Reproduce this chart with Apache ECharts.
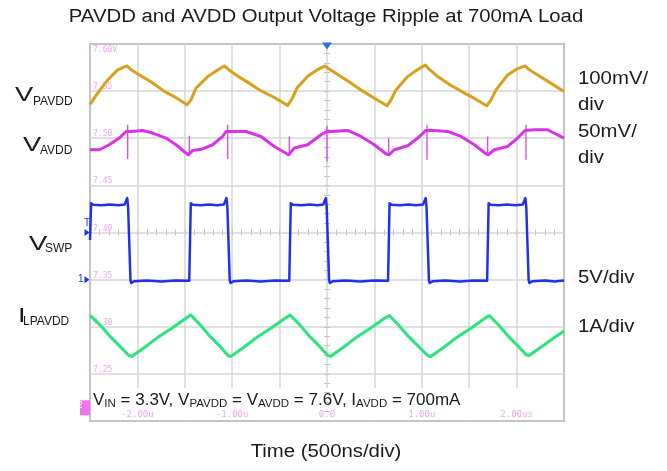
<!DOCTYPE html>
<html>
<head>
<meta charset="utf-8">
<script src="https://cdn.jsdelivr.net/npm/echarts@6/dist/echarts.min.js"></script>
<style>
  html, body { margin: 0; padding: 0; background: #fff; }
  #chart { width: 667px; height: 471px; }
</style>
</head>
<body>
<div id="chart"></div>
<script>
// Time axis: microseconds, 500 ns per division, trigger at 0
const xTickValues = [-2, -1, 0, 1, 2];
const xTickLabels = ['-2.00u', '-1.00u', '0.0', '1.00u', '2.00us'];
// Channel 2 (AVDD) screen scale, 50 mV per division
const yTickValues = [7.25, 7.30, 7.35, 7.40, 7.45, 7.50, 7.55, 7.60];
const yTickLabels = ['7.25', '7.30', '7.35', '7.40', '7.45', '7.50', '7.55', '7.60V'];

// Trace labels on the left and per-channel scales on the right
const traceMain = ['V', 'V', 'V', 'I'];
const traceSub = ['PAVDD', 'AVDD', 'SWP', 'LPAVDD'];
const scaleLabels = ['100mV/\ndiv', '50mV/\ndiv', '5V/div', '1A/div'];

// VPAVDD [t (us), V]
const pavdd = [
  [-2.5, 7.572], [-2.489, 7.574], [-2.419, 7.5957], [-2.313, 7.6238], [-2.208, 7.645], [-2.110, 7.6534],
  [-2.07, 7.646], [-1.980, 7.6344], [-1.85, 7.619], [-1.72, 7.600], [-1.6, 7.587], [-1.477, 7.5709],
  [-1.435, 7.5815], [-1.382, 7.6062], [-1.258, 7.6308], [-1.153, 7.645], [-1.083, 7.6534], [-1.04, 7.646],
  [-0.960, 7.6344], [-0.83, 7.618], [-0.7, 7.601], [-0.56, 7.587], [-0.415, 7.5698], [-0.369, 7.5836],
  [-0.316, 7.6069], [-0.200, 7.6323], [-0.105, 7.645], [-0.021, 7.6534], [0.03, 7.646], [0.105, 7.6365],
  [0.24, 7.619], [0.37, 7.601], [0.5, 7.585], [0.633, 7.5688], [0.675, 7.5815], [0.728, 7.6026],
  [0.851, 7.6308], [0.949, 7.645], [1.037, 7.6556], [1.08, 7.646], [1.168, 7.6308], [1.3, 7.613],
  [1.43, 7.598], [1.56, 7.584], [1.685, 7.5688], [1.730, 7.5815], [1.783, 7.6026], [1.906, 7.6344],
  [2.004, 7.6471], [2.089, 7.6534], [2.13, 7.646], [2.223, 7.6344], [2.36, 7.617], [2.5, 7.599]
];

// VAVDD [t (us), V]
const avdd = [
  [-2.5, 7.4878], [-2.402, 7.4878], [-2.296, 7.4931], [-2.191, 7.5002], [-2.12, 7.5072], [-2.068, 7.5072],
  [-1.944, 7.5083], [-1.839, 7.5055], [-1.698, 7.5002], [-1.593, 7.4931], [-1.487, 7.4843], [-1.462, 7.4825],
  [-1.417, 7.4871], [-1.311, 7.4886], [-1.206, 7.4931], [-1.100, 7.5019], [-1.065, 7.5072], [-0.995, 7.5072],
  [-0.854, 7.5072], [-0.696, 7.5019], [-0.556, 7.4913], [-0.405, 7.4825], [-0.345, 7.4896], [-0.204, 7.4931],
  [-0.063, 7.5037], [-0.004, 7.5072], [0.042, 7.5072], [0.218, 7.5083], [0.359, 7.5019], [0.499, 7.4931],
  [0.622, 7.4835], [0.655, 7.4825], [0.710, 7.4878], [0.851, 7.4921], [0.957, 7.5002], [1.044, 7.5083],
  [1.132, 7.5083], [1.273, 7.5072], [1.414, 7.5019], [1.554, 7.4931], [1.677, 7.4835], [1.70, 7.4825],
  [1.765, 7.4878], [1.906, 7.4913], [2.011, 7.5002], [2.089, 7.5083], [2.187, 7.509], [2.328, 7.509],
  [2.5, 7.5002]
];
// Switching spikes on VAVDD [t (us), top V, bottom V]
const avddSpikes = [
  [-2.102, 7.5143, 7.4780], [-1.453, 7.5026, 7.4815], [-1.047, 7.5143, 7.4780],
  [-0.398, 7.5019, 7.4815], [0.000, 7.5132, 7.4754], [0.651, 7.5002, 7.4815],
  [1.055, 7.5143, 7.4772], [1.695, 7.5019, 7.4815], [2.099, 7.5143, 7.4772]
];

// VSWP [t (us), V]
const swp = [
  [-2.5, 4.2], [-2.488, 8.1], [-2.465, 7.95], [-2.38, 7.88], [-2.29, 7.97], [-2.2, 7.9], [-2.135, 7.98],
  [-2.107, 8.65], [-2.098, 7.7], [-2.073, -0.05], [-2.065, -0.35], [-2.035, -0.18], [-1.9, -0.1],
  [-1.75, -0.2], [-1.6, -0.08], [-1.453, -0.12],
  [-1.437, 8.1], [-1.415, 7.95], [-1.33, 7.88], [-1.24, 7.97], [-1.16, 7.9], [-1.088, 7.98],
  [-1.06, 8.65], [-1.051, 7.7], [-1.026, -0.05], [-1.018, -0.35], [-0.988, -0.18], [-0.85, -0.1],
  [-0.7, -0.2], [-0.55, -0.08], [-0.398, -0.12],
  [-0.382, 8.1], [-0.36, 7.95], [-0.27, 7.88], [-0.18, 7.97], [-0.1, 7.9], [-0.04, 7.98],
  [-0.012, 8.65], [-0.003, 7.7], [0.022, -0.05], [0.03, -0.35], [0.06, -0.18], [0.2, -0.1],
  [0.35, -0.2], [0.5, -0.08], [0.644, -0.12],
  [0.66, 8.1], [0.682, 7.95], [0.77, 7.88], [0.86, 7.97], [0.94, 7.9], [1.013, 7.98],
  [1.041, 8.65], [1.05, 7.7], [1.075, -0.05], [1.083, -0.35], [1.113, -0.18], [1.25, -0.1],
  [1.4, -0.2], [1.55, -0.08], [1.689, -0.12],
  [1.705, 8.1], [1.727, 7.95], [1.81, 7.88], [1.9, 7.97], [1.99, 7.9], [2.065, 7.98],
  [2.093, 8.65], [2.102, 7.7], [2.127, -0.05], [2.135, -0.35], [2.165, -0.18], [2.3, -0.1],
  [2.4, -0.2], [2.5, -0.1]
];

// ILPAVDD [t (us), A]
const ilpavdd = [
  [-2.5, 2.24], [-2.488, 2.235], [-2.39, 2.03], [-2.29, 1.80], [-2.19, 1.60], [-2.09, 1.39], [-2.075, 1.36],
  [-2.06, 1.37], [-1.925, 1.56], [-1.775, 1.79], [-1.625, 1.985], [-1.495, 2.17], [-1.437, 2.25], [-1.425, 2.245],
  [-1.337, 2.04], [-1.237, 1.805], [-1.137, 1.60], [-1.045, 1.39], [-1.031, 1.36], [-1.016, 1.37],
  [-0.88, 1.56], [-0.73, 1.79], [-0.58, 1.985], [-0.45, 2.17], [-0.389, 2.25], [-0.377, 2.245],
  [-0.287, 2.04], [-0.187, 1.805], [-0.087, 1.60], [0.01, 1.39], [0.024, 1.37], [0.04, 1.375],
  [0.17, 1.56], [0.32, 1.79], [0.47, 1.985], [0.6, 2.17], [0.657, 2.24], [0.669, 2.235],
  [0.757, 2.03], [0.857, 1.80], [0.957, 1.60], [1.065, 1.385], [1.079, 1.36], [1.094, 1.37],
  [1.23, 1.56], [1.38, 1.79], [1.53, 1.985], [1.655, 2.165], [1.712, 2.24], [1.724, 2.235],
  [1.812, 2.03], [1.912, 1.80], [2.01, 1.60], [2.103, 1.40], [2.117, 1.38], [2.132, 1.39],
  [2.27, 1.585], [2.4, 1.77], [2.5, 1.91]
];

const FONT = '"Liberation Sans", Arial, sans-serif';
const MONO = '"DejaVu Sans Mono", monospace';
const PINK = '#f4a4ef';
const GRIDLINE = '#d6d6d6';
const INK = '#1a1a1a';
const COLORS = { pavdd: '#d8a11d', avdd: '#d734e8', swp: '#2130f0', il: '#2ae47c' };

const plot = { left: 90, top: 44, width: 474, height: 377 };

function pick(values, labels) {
  return function (v) {
    const i = values.findIndex(t => Math.abs(t - v) < 1e-6);
    return i < 0 ? '' : labels[i];
  };
}
const xLabel = pick(xTickValues, xTickLabels);
const yLabel = pick(yTickValues, yTickLabels);

// Spike segments separated by gaps
const spikeLine = [];
avddSpikes.forEach(([t, hi, lo]) => {
  spikeLine.push([t, hi], [t, lo], [t, '-']);
});

const timeAxisBase = { type: 'value', min: -2.5, max: 2.5, interval: 0.5, gridIndex: 0 };

function centerTicksX(inside) {
  return Object.assign({}, timeAxisBase, {
    position: 'bottom', offset: -plot.height / 2, z: 1,
    axisLine: { show: false },
    axisTick: { show: true, inside: inside, length: 3, lineStyle: { color: '#c4c4c4', width: 1 } },
    minorTick: { show: true, splitNumber: 5, length: 3, lineStyle: { color: '#c4c4c4', width: 1 } },
    axisLabel: { show: false }, splitLine: { show: false }
  });
}
function centerTicksY(inside) {
  return {
    type: 'value', min: 7.20, max: 7.60, interval: 0.05,
    position: 'left', offset: -plot.width / 2, z: 1,
    axisLine: { show: false },
    axisTick: { show: true, inside: inside, length: 3, lineStyle: { color: '#c4c4c4', width: 1 } },
    minorTick: { show: true, splitNumber: 5, length: 3, lineStyle: { color: '#c4c4c4', width: 1 } },
    axisLabel: { show: false }, splitLine: { show: false }
  };
}

function stretchedText(x, y, text, opts) {
  return {
    type: 'text', x: x, y: y, scaleX: opts.scaleX || 1, z: 20, silent: true,
    style: {
      text: text, fill: INK, fontFamily: FONT, fontSize: opts.fontSize || 18,
      textAlign: opts.align || 'left', align: opts.align || 'left',
      textVerticalAlign: opts.vAlign || 'middle', verticalAlign: opts.vAlign || 'middle',
      lineHeight: opts.lineHeight || undefined
    }
  };
}

const leftLabelLayout = [
  { mainX: 15, subX: 33, y: 95, subY: 101.5 },
  { mainX: 23, subX: 40, y: 145, subY: 151 },
  { mainX: 29, subX: 45, y: 244, subY: 249 },
  { mainX: 18, subX: 23, y: 316, subY: 322 }
];
const rightLabelY = [66, 119, 278.5, 327];

const graphics = [];
graphics.push(stretchedText(326, 17, 'PAVDD and AVDD Output Voltage Ripple at 700mA Load', { fontSize: 18, align: 'center', scaleX: 1.13 }));
graphics.push(stretchedText(326, 452, 'Time (500ns/div)', { fontSize: 18, align: 'center', scaleX: 1.13 }));
traceMain.forEach((m, i) => {
  const L = leftLabelLayout[i];
  graphics.push(stretchedText(L.mainX, L.y, m, { fontSize: 21, scaleX: 1.3 }));
  graphics.push(stretchedText(L.subX, L.subY, traceSub[i], { fontSize: 12 }));
});
scaleLabels.forEach((s, i) => {
  const multi = s.indexOf('\n') >= 0;
  graphics.push(stretchedText(578, rightLabelY[i], s, {
    fontSize: 18, scaleX: 1.13, vAlign: multi ? 'top' : 'middle', lineHeight: multi ? 26 : undefined
  }));
});
// Test-condition note across the bottom of the screen
graphics.push({
  type: 'rect', z: 1, silent: true,
  shape: { x: plot.left + 1, y: 388, width: plot.width - 2, height: plot.height - 345 },
  style: { fill: '#ffffff' }
});
graphics.push({
  type: 'text', x: 93, y: 400, z: 20, silent: true,
  style: {
    text: '{m|V}{s|IN}{m| = 3.3V, V}{s|PAVDD}{m| = V}{s|AVDD}{m| = 7.6V, I}{s|AVDD}{m| = 700mA}',
    textVerticalAlign: 'middle', verticalAlign: 'middle',
    rich: {
      m: { fontFamily: FONT, fontSize: 17, color: INK, fill: INK, lineHeight: 20 },
      s: { fontFamily: FONT, fontSize: 11.5, color: INK, fill: INK, lineHeight: 11, verticalAlign: 'bottom' }
    }
  }
});

const option = {
  backgroundColor: '#ffffff',
  animation: false,
  grid: {
    left: plot.left, top: plot.top, width: plot.width, height: plot.height,
    show: true, borderColor: '#6e6e6e', borderWidth: 1.5, backgroundColor: '#ffffff'
  },
  xAxis: [
    Object.assign({}, timeAxisBase, {
      position: 'bottom', z: 0,
      axisLine: { show: false }, axisTick: { show: false }, axisLabel: { show: false },
      splitLine: { show: true, lineStyle: { color: GRIDLINE, width: 1.5 } }
    }),
    Object.assign({}, timeAxisBase, {
      position: 'bottom', z: 5,
      axisLine: { show: false }, axisTick: { show: false }, splitLine: { show: false },
      axisLabel: {
        inside: true, margin: 2, color: PINK, fontFamily: MONO, fontSize: 9,
        showMinLabel: true, showMaxLabel: true, formatter: xLabel
      }
    }),
    centerTicksX(true),
    centerTicksX(false)
  ],
  yAxis: [
    {
      type: 'value', min: 7.20, max: 7.60, interval: 0.05, position: 'left', z: 0,
      axisLine: { show: false }, axisTick: { show: false },
      splitLine: { show: true, lineStyle: { color: GRIDLINE, width: 1.5 } },
      axisLabel: {
        inside: true, margin: 3, color: PINK, fontFamily: MONO, fontSize: 8,
        showMinLabel: true, showMaxLabel: true,
        formatter: v => {
          const s = yLabel(v);
          if (!s) return '';
          return Math.abs(v - 7.60) < 1e-6 ? '{t|' + s + '}' : '{a|' + s + '}';
        },
        rich: {
          a: { color: PINK, fontFamily: MONO, fontSize: 8, padding: [0, 0, 8, 0] },
          t: { color: PINK, fontFamily: MONO, fontSize: 8, padding: [11, 0, 0, 0] }
        }
      }
    },
    // Channel scales, each eight divisions tall
    { type: 'value', min: 6.9, max: 7.7, interval: 0.1, show: false },
    { type: 'value', min: -15, max: 25, interval: 5, show: false },
    { type: 'value', min: 0, max: 8, interval: 1, show: false },
    centerTicksY(true),
    centerTicksY(false)
  ],
  graphic: { elements: graphics },
  series: [
    {
      name: 'VPAVDD', type: 'line', xAxisIndex: 0, yAxisIndex: 1, data: pavdd,
      showSymbol: false, symbol: 'none', z: 3,
      lineStyle: { color: COLORS.pavdd, width: 3, join: 'round' }
    },
    {
      name: 'VAVDD', type: 'line', xAxisIndex: 0, yAxisIndex: 0, data: avdd,
      showSymbol: false, symbol: 'none', z: 3,
      lineStyle: { color: COLORS.avdd, width: 3, join: 'round' },
      markPoint: {
        silent: true,
        data: [{
          coord: [-2.5, 7.214], symbol: 'rect', symbolSize: [10, 15], symbolOffset: [-5, 0],
          itemStyle: { color: '#ee77ee' },
          label: { show: true, formatter: '2', color: '#ffffff', fontSize: 9, fontFamily: MONO, position: 'inside', offset: [-5, -2] }
        }]
      }
    },
    {
      name: 'VAVDD spikes', type: 'line', xAxisIndex: 0, yAxisIndex: 0, data: spikeLine,
      showSymbol: false, symbol: 'none', connectNulls: false, z: 3,
      lineStyle: { color: COLORS.avdd, width: 1.2 }
    },
    {
      name: 'VSWP', type: 'line', xAxisIndex: 0, yAxisIndex: 2, data: swp,
      showSymbol: false, symbol: 'none', z: 3,
      lineStyle: { color: COLORS.swp, width: 2.5, join: 'round' },
      markPoint: {
        silent: true,
        itemStyle: { color: COLORS.swp },
        data: [
          { coord: [0, 25], symbol: 'triangle', symbolRotate: 180, symbolSize: [10, 7], symbolOffset: [0, 2],
            itemStyle: { color: '#2a6de8' }, label: { show: false } },
          { coord: [-2.5, 5], symbol: 'triangle', symbolRotate: -90, symbolSize: [7, 5], symbolOffset: [-3, 0],
            label: { show: true, formatter: 'T', position: 'top', distance: 1, color: COLORS.swp, fontSize: 10, fontFamily: FONT } },
          { coord: [-2.5, 0], symbol: 'triangle', symbolRotate: -90, symbolSize: [7, 5], symbolOffset: [-3, 0],
            label: { show: true, formatter: '1', position: 'left', distance: 1, color: COLORS.swp, fontSize: 10, fontFamily: FONT } }
        ]
      }
    },
    {
      name: 'ILPAVDD', type: 'line', xAxisIndex: 0, yAxisIndex: 3, data: ilpavdd,
      showSymbol: false, symbol: 'none', z: 3,
      lineStyle: { color: COLORS.il, width: 3, join: 'round' }
    }
  ]
};

const chart = echarts.init(document.getElementById('chart'), null, { renderer: 'canvas' });
chart.setOption(option);
</script>
</body>
</html>
